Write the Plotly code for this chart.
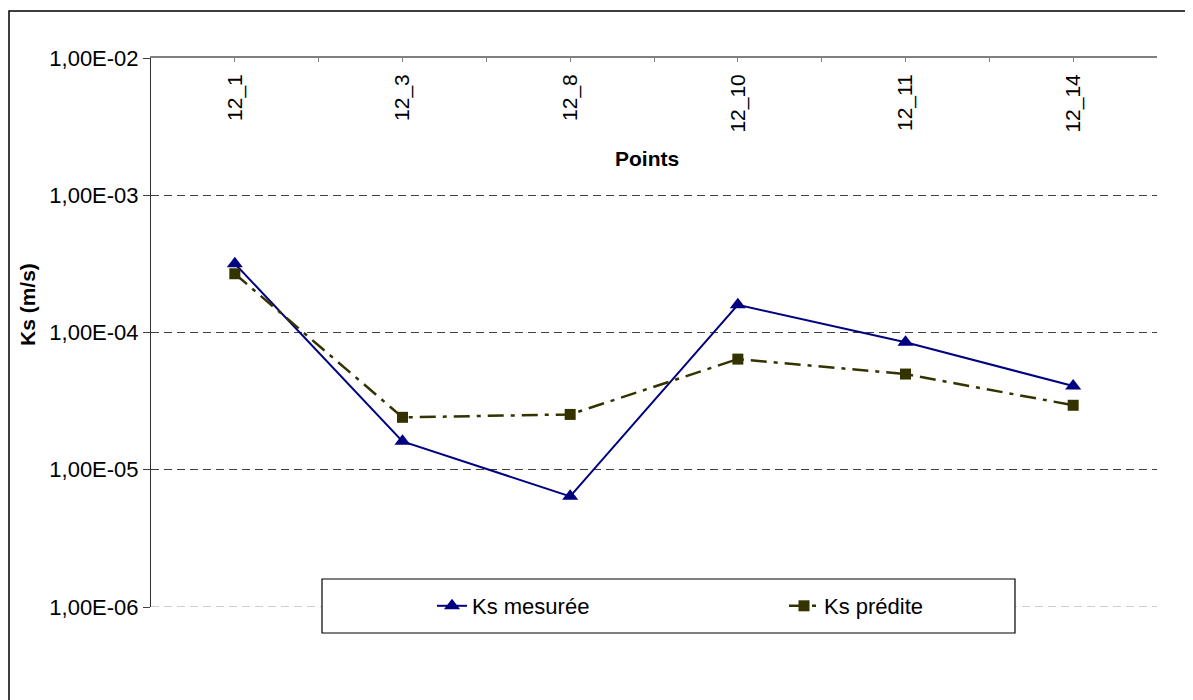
import plotly.graph_objects as go

POINTS = ["12_1", "12_3", "12_8", "12_10", "12_11", "12_14"]
KS_MESUREE = [3.17e-4, 1.61e-5, 6.4e-6, 1.59e-4, 8.5e-5, 4.07e-5]
KS_PREDITE = [2.68e-4, 2.41e-5, 2.53e-5, 6.4e-5, 4.98e-5, 2.95e-5]
Y_TICKS = [1e-6, 1e-5, 1e-4, 1e-3, 1e-2]
Y_TICK_TEXT = ["1,00E-06", "1,00E-05", "1,00E-04", "1,00E-03", "1,00E-02"]

W, H = 1193, 700
OFF = 8  # page body margin
# plot area in page pixels: x 151..1157, y 58..607
L, T = 151 - OFF, 58 - OFF
R, B = W - (1157 - OFF), H - (607 - OFF)
FONT = "Liberation Sans, Arial, sans-serif"


def px_x(p):
    return (p - OFF - L) / (W - L - R)


def px_y(p):
    return (H - B - (p - OFF)) / (H - T - B)


x_idx = list(range(len(POINTS)))
x_range = [-0.5, len(POINTS) - 0.5]

fig = go.Figure()
fig.add_trace(
    go.Scatter(
        x=x_idx,
        y=KS_MESUREE,
        name="Ks mesurée",
        mode="lines+markers",
        line=dict(color="#000080", width=2),
        marker=dict(symbol="triangle-up", size=14, color="#000080"),
    )
)
fig.add_trace(
    go.Scatter(
        x=x_idx,
        y=KS_PREDITE,
        name="Ks prédite",
        mode="lines+markers",
        line=dict(color="#333300", width=2.5, dash="16px,7px,4px,7px"),
        marker=dict(symbol="square", size=11, color="#333300"),
    )
)
# carries the category labels, drawn under the top axis line
fig.add_trace(
    go.Scatter(x=x_idx, y=KS_MESUREE, xaxis="x2", mode="none",
               showlegend=False, hoverinfo="skip")
)

fig.update_layout(
    width=W,
    height=H,
    margin=dict(l=L, r=R, t=T, b=B),
    paper_bgcolor="white",
    plot_bgcolor="white",
    font=dict(family=FONT, size=21, color="black"),
    showlegend=True,
    legend=dict(
        orientation="h",
        x=px_x(432),
        xanchor="left",
        y=px_y(606),
        yanchor="middle",
        bgcolor="rgba(0,0,0,0)",
        borderwidth=0,
        entrywidth=307,
        font=dict(size=22, color="black"),
    ),
    xaxis=dict(
        side="top",
        range=x_range,
        tickmode="array",
        tickvals=x_idx,
        showticklabels=False,
        ticks="inside",
        ticklen=4,
        tickcolor="#808080",
        showline=True,
        linecolor="#808080",
        linewidth=1.5,
        showgrid=False,
        zeroline=False,
        minor=dict(
            tickmode="array",
            tickvals=[i - 0.5 for i in range(len(POINTS) + 1)],
            ticks="inside",
            ticklen=4,
            tickcolor="#808080",
            showgrid=False,
        ),
    ),
    xaxis2=dict(
        overlaying="x",
        anchor="free",
        position=px_y(69),
        side="bottom",
        range=x_range,
        tickmode="array",
        tickvals=x_idx,
        ticktext=POINTS,
        tickangle=-90,
        tickfont=dict(size=21, color="black"),
        ticks="",
        showline=False,
        showgrid=False,
        zeroline=False,
    ),
    yaxis=dict(
        type="log",
        range=[-6, -1.9999],
        tickmode="array",
        tickvals=Y_TICKS,
        ticktext=Y_TICK_TEXT,
        tickfont=dict(size=22, color="black"),
        ticks="outside",
        ticklen=7,
        tickcolor="#404040",
        showline=True,
        linecolor="#303030",
        linewidth=1,
        showgrid=False,
        zeroline=False,
        minor=dict(
            tickmode="array",
            tickvals=Y_TICKS[1:-1],
            ticks="",
            showgrid=True,
            gridcolor="#404040",
            gridwidth=1,
            griddash="8px,5px",
        ),
    ),
    shapes=[
        # lighter bottom gridline
        dict(
            type="line", xref="paper", yref="y",
            x0=0, x1=1, y0=1e-6, y1=1e-6,
            line=dict(color="#c0c0c0", width=1.5, dash="8px,5px"),
            layer="above",
        ),
        # legend frame
        dict(
            type="rect", xref="paper", yref="paper",
            x0=px_x(322), x1=px_x(1015), y0=px_y(633), y1=px_y(579),
            line=dict(color="black", width=1.2),
            fillcolor="white",
            layer="above",
        ),
        # outer chart frame
        dict(
            type="rect", xref="paper", yref="paper",
            x0=px_x(9), x1=px_x(1210), y0=px_y(715), y1=px_y(11),
            line=dict(color="black", width=1.5),
            fillcolor="rgba(0,0,0,0)",
            layer="above",
        ),
    ],
    annotations=[
        dict(
            text="<b>Points</b>", xref="paper", yref="paper",
            x=px_x(647), y=px_y(158), xanchor="center", yanchor="middle",
            showarrow=False, font=dict(size=21),
        ),
        dict(
            text="<b>Ks (m/s)</b>", xref="paper", yref="paper",
            x=px_x(27), y=px_y(305), xanchor="center", yanchor="middle",
            textangle=-90, showarrow=False, font=dict(size=21),
        ),
    ],
)

fig.write_html("out.html")
